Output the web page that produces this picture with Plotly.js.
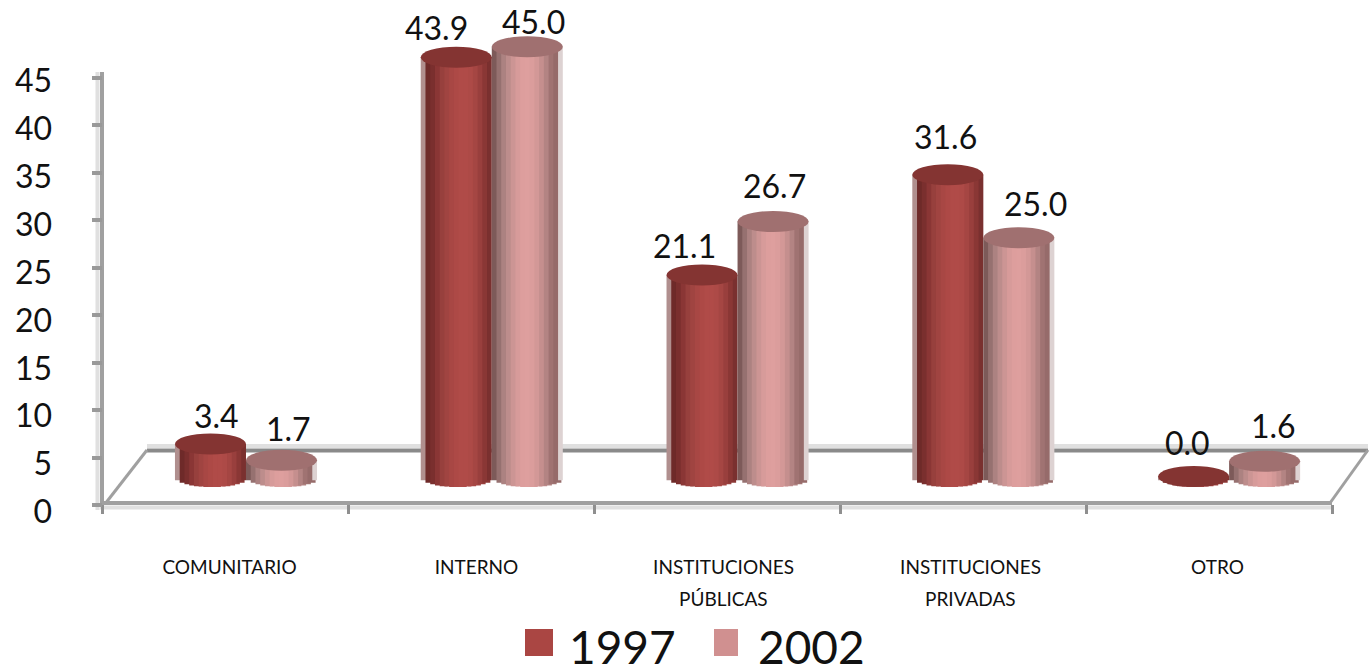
<!DOCTYPE html>
<html><head><meta charset="utf-8">
<script src="https://cdn.plot.ly/plotly-3.0.1.min.js"></script>
<style>html,body{margin:0;padding:0;background:#fff;overflow:hidden}</style></head>
<body><div id="chart" style="width:1371px;height:666px"></div>
<script>
// ---- data ----
const categories = ['COMUNITARIO','INTERNO','INSTITUCIONES','INSTITUCIONES','OTRO'];
const categoryLine2 = ['','','PÚBLICAS','PRIVADAS',''];
const seriesNames = ['1997','2002'];
const values1997 = [3.4,43.9,21.1,31.6,0.0];
const values2002 = [1.7,45.0,26.7,25.0,1.6];
const yTicks = [0,5,10,15,20,25,30,35,40,45];

// ---- style / layout helpers ----
const W=1371,H=666, px=v=>v/W, py=v=>1-v/H;
const cylW=0.289, sag=1.1;
const shades1997=['#b08f8e','#6e2a29','#7a2f2e','#8a3635','#97403d','#a04441','#a84744','#ad4946','#b04b48','#b04b48','#ad4a47','#a54643','#993f3d','#8a3735','#7a302f'];
const shades2002=['#7d5a59','#967170','#ac8281','#bd8d8c','#cc9594','#d79b9a','#dd9e9d','#de9f9e','#db9d9c','#d39897','#c58f8e','#b38483','#a07372','#966b6a','#ddd2d2'];
const topCol=['#843432','#a07070'];
const xlab=[0,1,2,3,4];
const traces=[];
function addCyl(vals,side,shades,name){
  const n=shades.length, sw=cylW/n;
  shades.forEach((c,i)=>{
    const t=((i+0.5)/n)*2-1;
    const b=-sag*Math.sqrt(Math.max(0,1-t*t));
    const wd=Math.min(sw*1.7,cylW-i*sw);
    traces.push({type:'bar',x:categories.map((_,k)=>k),y:vals.map(v=>v-b),base:vals.map(()=>b),
      offset:(side<0?-cylW:0)+i*sw,width:wd,xaxis:'x',yaxis:'y2',
      marker:{color:c,line:{width:0}},showlegend:false,name:name,hoverinfo:'skip'});
  });
}
addCyl(values1997,-1,shades1997,seriesNames[0]);
addCyl(values2002,1,shades2002,seriesNames[1]);
// ticks-only and label-only axes need a trace to exist
traces.push({type:'scatter',x:[0],y:[0],xaxis:'x2',yaxis:'y',mode:'none',showlegend:false,hoverinfo:'skip'});
traces.push({type:'scatter',x:[0],y:[0],xaxis:'x3',yaxis:'y3',mode:'none',showlegend:false,hoverinfo:'skip'});

const shapes=[];
const line=(x0,y0,x1,y1,c,w,layer)=>shapes.push({type:'line',xref:'paper',yref:'paper',x0:px(x0),y0:py(y0),x1:px(x1),y1:py(y1),line:{color:c,width:w},layer:layer||'below'});
// floor & wall
line(147,446,1368,446,'#e0e0e0',4);
line(147,450.5,1368,450.5,'#8a8a8a',4);
line(100,507.5,1332,507.5,'#e0e0e0',4);
line(97.5,72,97.5,510,'#e0e0e0',4);
line(105,504,147,450,'#a0a0a0',3);
line(1330,503,1368,450,'#a0a0a0',3);
line(102,72,102,505,'#a0a0a0',4);
// cylinder tops
[[values1997,-1],[values2002,1]].forEach(([vals,side],s)=>{
  vals.forEach((v,k)=>{
    const x0=k+(side<0?-cylW:0);
    shapes.push({type:'circle',xref:'x',yref:'y2',x0:x0,x1:x0+cylW,y0:v-sag,y1:v+sag,
      fillcolor:topCol[s],line:{width:0},layer:'above'});
  });
});
// legend swatches
shapes.push({type:'rect',xref:'paper',yref:'paper',x0:px(525),x1:px(553),y0:py(656),y1:py(629),fillcolor:'#AA4643',line:{width:0}});
shapes.push({type:'rect',xref:'paper',yref:'paper',x0:px(714),x1:px(738),y0:py(656),y1:py(629),fillcolor:'#D09090',line:{width:0}});

const F='Lato, Carlito, sans-serif';
const ann=[];
const dx97=[6,-20,-18,-2,-6], dy97=[29,30,29,38,34];
const dx02=[7,6,1,17,9],  dy02=[32,25,36,34,36];
values1997.forEach((v,k)=>ann.push({xref:'x',yref:'y2',x:k-cylW/2,y:v,text:v.toFixed(1),showarrow:false,xshift:dx97[k],yshift:dy97[k],font:{family:F,size:32,color:'#111'}}));
values2002.forEach((v,k)=>ann.push({xref:'x',yref:'y2',x:k+cylW/2,y:v,text:v.toFixed(1),showarrow:false,xshift:dx02[k],yshift:dy02[k],font:{family:F,size:32,color:'#111'}}));
categoryLine2.forEach((t,k)=>{ if(t) ann.push({xref:'x3',yref:'paper',x:k,y:py(598),yanchor:'middle',text:t,showarrow:false,font:{family:F,size:19,color:'#111'}}); });
ann.push({xref:'paper',yref:'paper',x:px(567),y:py(646),xanchor:'left',yanchor:'middle',text:seriesNames[0],showarrow:false,font:{family:F,size:46,color:'#111'}});
ann.push({xref:'paper',yref:'paper',x:px(756),y:py(646),xanchor:'left',yanchor:'middle',text:seriesNames[1],showarrow:false,font:{family:F,size:46,color:'#111'}});

const layout={
  width:W,height:H,margin:{l:0,r:0,t:0,b:0},paper_bgcolor:'#fff',plot_bgcolor:'rgba(0,0,0,0)',
  showlegend:false,barmode:'overlay',hovermode:false,
  // bars
  xaxis:{type:'linear',domain:[px(123.1),px(1352)],range:[-0.5,4.5],visible:false,anchor:'y2',fixedrange:true},
  yaxis2:{domain:[py(495.6),py(8.5)],range:[-2,49],visible:false,anchor:'x',fixedrange:true},
  // floor axis with ticks
  xaxis2:{type:'linear',domain:[px(102),px(1332)],range:[0,5],tickvals:[0,1,2,3,4,5],ticktext:['','','','','',''],ticks:'outside',ticklen:9,tickwidth:3,tickcolor:'#8f8f8f',
    showline:true,linecolor:'#a0a0a0',linewidth:4,showgrid:false,zeroline:false,anchor:'free',position:py(503),fixedrange:true},
  yaxis:{domain:[py(505),py(78)],range:[0,45],tickvals:yTicks,ticktext:yTicks.map(()=>''),ticks:'outside',ticklen:10,tickwidth:4,tickcolor:'#999',
    showline:false,showgrid:false,zeroline:false,anchor:'free',position:px(102),fixedrange:true},
  // labels
  xaxis3:{type:'linear',domain:[px(106),px(1341)],range:[-0.5,4.5],tickvals:xlab,ticktext:categories,ticks:'',showline:false,showgrid:false,zeroline:false,
    tickfont:{family:F,size:19,color:'#111'},anchor:'free',position:py(554),fixedrange:true},
  yaxis3:{domain:[py(512),py(81)],range:[0,45],tickvals:yTicks,ticks:'',showline:false,showgrid:false,zeroline:false,
    tickfont:{family:F,size:32,color:'#111'},anchor:'free',position:px(52),fixedrange:true},
  shapes:shapes,annotations:ann
};
Plotly.newPlot('chart',traces,layout,{displayModeBar:false,staticPlot:true});
</script></body></html>
